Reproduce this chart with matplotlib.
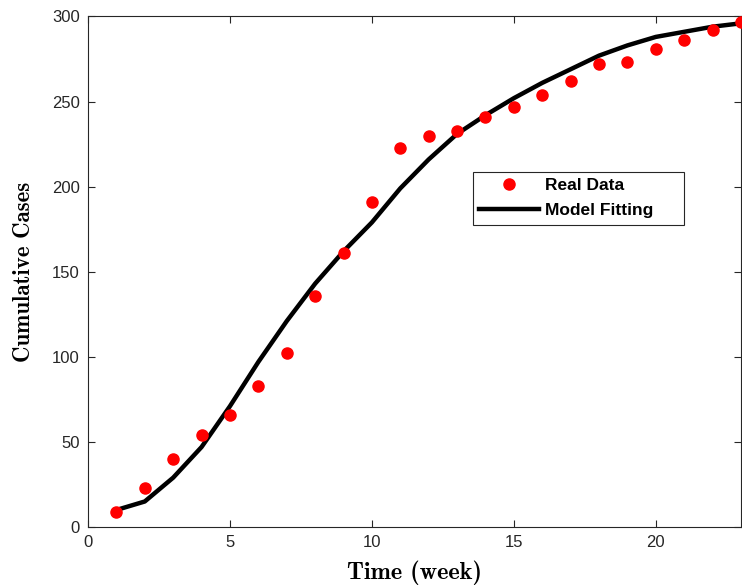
import numpy as np
import matplotlib
matplotlib.use("Agg")
import matplotlib.pyplot as plt

# weekly cumulative case counts and the fitted model curve
weeks = np.arange(1, 24)
real_cases = [9, 23, 40, 54, 66, 83, 102, 136, 161, 191, 223, 230, 233,
              241, 247, 254, 262, 272, 273, 281, 286, 292, 297]
model_cases = [10, 15, 29, 47, 71, 97, 121, 143, 162, 179, 199, 216, 231,
               242, 252, 261, 269, 277, 283, 288, 291, 294, 296]

x_ticks = [0, 5, 10, 15, 20]
y_ticks = [0, 50, 100, 150, 200, 250, 300]

axis_grey = "#262626"

fig = plt.figure(figsize=(7.42, 5.87), dpi=100)
ax = fig.add_axes([0.1186, 0.1022, 0.8800, 0.8697])

ax.plot(weeks, real_cases, "o", color="red", markersize=8, label="Real Data",
        clip_on=False, zorder=3)
ax.plot(weeks, model_cases, "-", color="black", linewidth=3.2,
        label="Model Fitting", zorder=2)

ax.set_xlim(0, 23)
ax.set_ylim(0, 300)
ax.set_xticks(x_ticks)
ax.set_yticks(y_ticks)

for side in ["left", "right", "top", "bottom"]:
    ax.spines[side].set_color(axis_grey)
    ax.spines[side].set_linewidth(0.8)

ax.tick_params(direction="in", length=5, width=0.8, top=True, right=True,
               colors=axis_grey, labelsize=12, pad=6)
for lbl in ax.get_xticklabels() + ax.get_yticklabels():
    lbl.set_fontfamily("Liberation Sans")

ax.set_xlabel("Time (week)", fontfamily="cmb10", fontsize=17.5, labelpad=7)
ax.set_ylabel("Cumulative Cases", fontfamily="cmb10", fontsize=16.5,
              labelpad=12)

# legend stretched to a fixed width, text left-aligned inside
leg = ax.legend(loc="upper left", bbox_to_anchor=(0.589, 0.594, 0.323, 0.102),
                mode="expand", fancybox=False, framealpha=1,
                edgecolor=axis_grey,
                prop={"family": "Liberation Sans", "weight": "bold", "size": 12.5},
                handlelength=3.5, borderaxespad=0, borderpad=0.35,
                labelspacing=0.6, handletextpad=0.3)
leg.get_frame().set_linewidth(0.8)

fig.savefig("out.png", dpi=100)
